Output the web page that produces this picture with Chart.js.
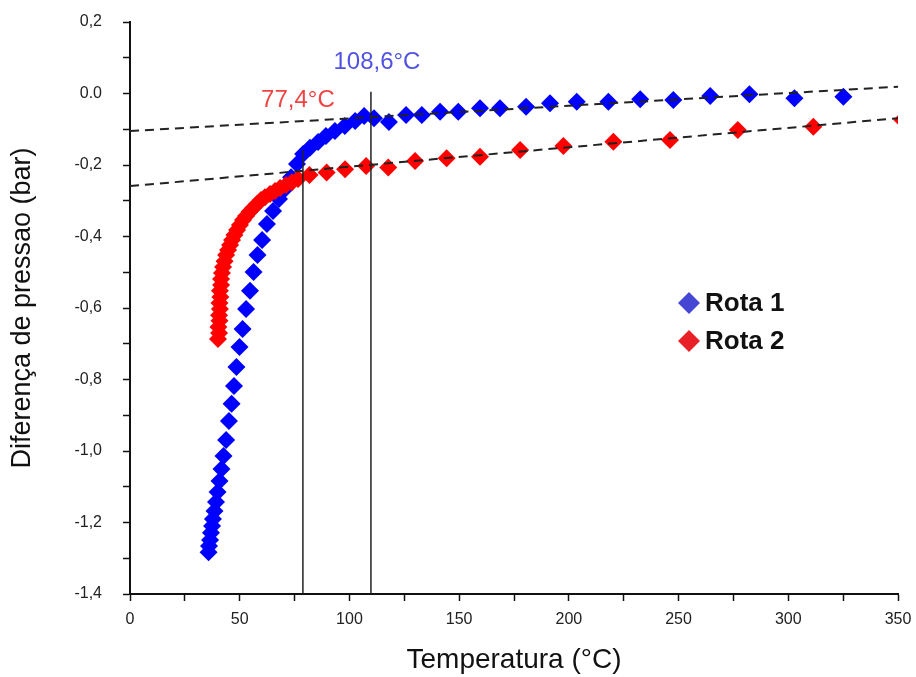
<!DOCTYPE html>
<html>
<head>
<meta charset="utf-8">
<script src="https://cdn.jsdelivr.net/npm/chart.js@4.4.1/dist/chart.umd.min.js"></script>
<style>
    body { margin: 0; background: #fff; }
    #wrap { width: 916px; height: 677px; }
</style>
</head>
<body>
<div id="wrap"><canvas id="chart"></canvas></div>
<script>
// Rota 1 (blue)
const rota1Temp = [35.8, 36.0, 36.5, 36.9, 37.4, 37.8, 38.5, 39.2, 39.9, 40.8,
    41.7, 42.6, 43.8, 45.1, 46.3, 47.4, 48.5, 49.9, 51.3, 52.9,
    54.7, 56.3, 58.1, 60.2, 62.4, 65.2, 67.9, 70.6, 73.4, 76.1,
    78.9, 82.0, 85.7, 89.3, 93.4, 97.9, 102.6, 106.7, 111.2, 118.0,
    125.8, 133.0, 141.3, 149.6, 159.5, 168.6, 180.5, 191.4, 203.6, 218.0,
    232.5, 247.6, 264.4, 282.3, 302.8, 325.1];
const rota1Press = [-1.283, -1.266, -1.249, -1.229, -1.210, -1.190, -1.168, -1.143, -1.115, -1.084,
    -1.050, -1.014, -0.969, -0.916, -0.868, -0.818, -0.765, -0.709, -0.659, -0.603,
    -0.552, -0.499, -0.452, -0.410, -0.365, -0.329, -0.295, -0.267, -0.234, -0.197,
    -0.169, -0.152, -0.136, -0.119, -0.105, -0.091, -0.077, -0.063, -0.069, -0.080,
    -0.060, -0.060, -0.051, -0.051, -0.041, -0.041, -0.037, -0.027, -0.023, -0.023,
    -0.016, -0.018, -0.007, -0.002, -0.013, -0.009];

// Rota 2 (red)
const rota2Temp = [40.1, 40.6, 40.3, 40.8, 40.6, 41.0, 40.8, 41.2, 41.0, 41.5,
    41.5, 41.9, 42.4, 43.1, 43.8, 44.7, 45.6, 46.5, 47.6, 48.8,
    50.1, 51.5, 52.9, 54.5, 56.1, 57.9, 59.7, 61.5, 63.8, 66.1,
    68.4, 71.1, 73.8, 76.6, 81.8, 89.6, 98.0, 107.6, 117.7, 129.9,
    144.3, 159.5, 177.8, 197.5, 220.3, 246.1, 277.0, 311.4, 352.0];
const rota2Press = [-0.687, -0.670, -0.653, -0.636, -0.620, -0.603, -0.586, -0.569, -0.552, -0.536,
    -0.519, -0.502, -0.485, -0.469, -0.452, -0.438, -0.424, -0.410, -0.396, -0.382,
    -0.368, -0.354, -0.343, -0.331, -0.320, -0.309, -0.298, -0.290, -0.281, -0.273,
    -0.264, -0.256, -0.248, -0.239, -0.228, -0.221, -0.212, -0.203, -0.207, -0.189,
    -0.181, -0.177, -0.158, -0.147, -0.135, -0.130, -0.102, -0.093, -0.074];

// dashed trend lines
const trendTemp = [0, 350];
const trend1Press = [-0.105, 0.019];
const trend2Press = [-0.259, -0.069];

// vertical transition lines
const transitionTemp = [78.8, 109.8];
const transitionTop = [-0.158, 0.005];
const transitionLabels = ["77,4°C", "108,6°C"];
const transitionColors = ["#f04444", "#5252e2"];

const legendLabels = ["Rota 1", "Rota 2"];
const legendColors = ["#4646d4", "#ea2028"];

const FONT = "'Liberation Sans', Arial, sans-serif";

function toPoints(xs, ys) {
    return xs.map((x, i) => ({ x: x, y: ys[i] }));
}

function lineSet(points, dash, width) {
    return {
        data: points,
        showLine: true,
        borderColor: "#222",
        borderWidth: width,
        borderDash: dash,
        pointRadius: 0,
        order: 0
    };
}

// fixed scale box sizes, no extra label padding
function fixBox(s, size) {
    if (s.isHorizontal()) s.height = size; else s.width = size;
    s.paddingLeft = 0;
    s.paddingRight = 0;
    s.paddingTop = 0;
    s.paddingBottom = 0;
}

// annotations + legend drawn on top
const extras = {
    id: "extras",
    afterDatasetsDraw(chart) {
        const ctx = chart.ctx;
        const xs = chart.scales.x;
        const ys = chart.scales.y;
        const offsets = [[-5, -50], [6, -29]];

        ctx.save();
        ctx.textAlign = "center";
        ctx.textBaseline = "middle";
        ctx.font = "24px " + FONT;
        transitionLabels.forEach((txt, i) => {
            const px = xs.getPixelForValue(transitionTemp[i]);
            const py = ys.getPixelForValue(transitionTop[i]);
            ctx.fillStyle = transitionColors[i];
            ctx.fillText(txt, px + offsets[i][0], py + offsets[i][1]);
        });

        // legend
        const lx = chart.chartArea.left + 559;
        const ly = chart.chartArea.top + 281;
        ctx.textAlign = "left";
        ctx.font = "bold 26px " + FONT;
        legendLabels.forEach((txt, i) => {
            const cy = ly + i * 38;
            ctx.fillStyle = legendColors[i];
            ctx.beginPath();
            ctx.moveTo(lx - 11, cy);
            ctx.lineTo(lx, cy - 11);
            ctx.lineTo(lx + 11, cy);
            ctx.lineTo(lx, cy + 11);
            ctx.closePath();
            ctx.fill();
            ctx.fillStyle = "#111";
            ctx.fillText(txt, lx + 16, cy + 1);
        });
        ctx.restore();
    }
};

const ctx = document.getElementById("chart").getContext("2d");
new Chart(ctx, {
    type: "scatter",
    data: {
        datasets: [
            lineSet(toPoints(trendTemp, trend1Press), [9, 6], 2),
            lineSet(toPoints(trendTemp, trend2Press), [9, 6], 2),
            lineSet([{ x: transitionTemp[0], y: -1.4 }, { x: transitionTemp[0], y: transitionTop[0] }], [], 1.5),
            lineSet([{ x: transitionTemp[1], y: -1.4 }, { x: transitionTemp[1], y: transitionTop[1] }], [], 1.5),
            {
                label: legendLabels[1],
                data: toPoints(rota2Temp, rota2Press),
                pointStyle: "rectRot",
                pointRadius: 9,
                pointBorderWidth: 0,
                backgroundColor: "#ff0000",
                borderColor: "#ff0000",
                order: 1
            },
            {
                label: legendLabels[0],
                data: toPoints(rota1Temp, rota1Press),
                pointStyle: "rectRot",
                pointRadius: 9,
                pointBorderWidth: 0,
                backgroundColor: "#0000ff",
                borderColor: "#0000ff",
                order: 2
            }
        ]
    },
    options: {
        responsive: true,
        maintainAspectRatio: false,
        animation: false,
        layout: { padding: { left: 0, top: 22, right: 18, bottom: 0 } },
        plugins: {
            legend: { display: false },
            tooltip: { enabled: false }
        },
        scales: {
            x: {
                type: "linear",
                min: 0,
                max: 350,
                afterFit: (s) => fixBox(s, 83),
                grid: { drawOnChartArea: false, tickLength: 7, tickColor: "#111", tickWidth: 1.5 },
                border: { display: true, color: "#111", width: 2 },
                ticks: {
                    stepSize: 25,
                    autoSkip: false,
                    maxRotation: 0,
                    padding: 9,
                    color: "#222",
                    font: { family: FONT, size: 16 },
                    callback: (v) => (Math.round(v) % 50 === 0 ? String(Math.round(v)) : "")
                },
                title: {
                    display: true,
                    text: "Temperatura (°C)",
                    color: "#111",
                    font: { family: FONT, size: 28 },
                    padding: { top: 0, bottom: 0 }
                }
            },
            y: {
                type: "linear",
                min: -1.4,
                max: 0.2,
                afterFit: (s) => fixBox(s, 130),
                grid: { drawOnChartArea: false, tickLength: 7, tickColor: "#111", tickWidth: 1.5 },
                border: { display: true, color: "#111", width: 2 },
                ticks: {
                    stepSize: 0.1,
                    autoSkip: false,
                    padding: 21,
                    color: "#222",
                    font: { family: FONT, size: 16 },
                    callback: (v) => {
                        const k = Math.round(v * 10);
                        if (k % 2 !== 0) return "";
                        if (k === 0) return "0.0";
                        return (k / 10).toFixed(1).replace(".", ",");
                    }
                },
                title: {
                    display: true,
                    text: "Diferença de pressao (bar)",
                    color: "#111",
                    font: { family: FONT, size: 27 },
                    padding: { top: 6, bottom: 0 }
                }
            }
        }
    },
    plugins: [extras]
});
</script>
</body>
</html>
